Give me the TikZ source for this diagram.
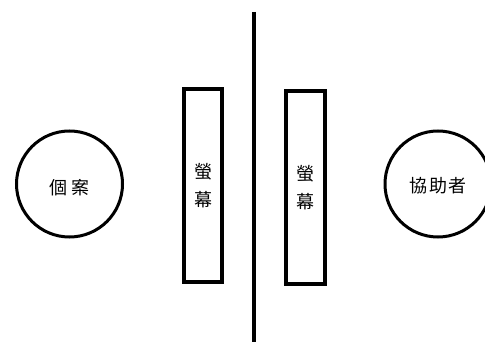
\documentclass[tikz,border=0pt]{standalone}
\usepackage{fontspec}
\newfontfamily\cjk{Noto Sans CJK TC}
\begin{document}
\begin{tikzpicture}[x=1pt,y=-1pt,
  person/.style={draw=black,line width=3pt,circle,minimum size=106pt,inner sep=0pt},
  label/.style={font=\cjk\fontsize{18}{20}\selectfont,inner sep=0pt},
  screen/.style={draw=black,line width=3.6pt,minimum width=38.5pt,minimum height=193pt,inner sep=0pt,align=center,font=\cjk\fontsize{18}{28}\selectfont},
  wall/.style={line width=4pt}]
\useasboundingbox (0,0) rectangle (485,342);
\clip (0,0) rectangle (485,342);
\node[person] (client) at (69.5,184) {};
\node[label] (clientname) at (69.5,188) {個\hspace{4pt}案};
\node[person] (helper) at (438,184) {};
\node[label] (helpername) at (438,186) {協\hspace{2pt}助\hspace{2pt}者};
\node[screen] (s1) at (203,185.5) {螢\\幕};
\node[screen] (s2) at (305.5,187.5) {螢\\幕};
\coordinate (wtop) at (254,12);
\coordinate (wbot) at (254,342);
\draw[wall] (wtop) -- (wbot);
\end{tikzpicture}
\end{document}
